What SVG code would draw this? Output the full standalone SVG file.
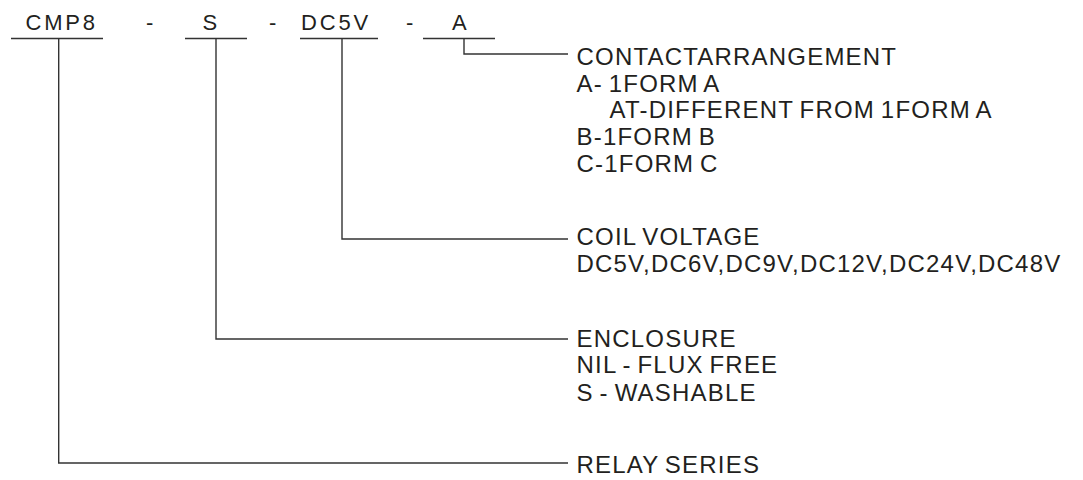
<svg xmlns="http://www.w3.org/2000/svg" width="1083" height="480" viewBox="0 0 1083 480">
<style>
text{font-family:"Liberation Sans",Arial,sans-serif;fill:#231f20}
.top{font-size:22px;letter-spacing:2.8px}
.lbl{font-size:24px;letter-spacing:1.2px;word-spacing:-2px}
.ln{fill:none;stroke:#333;stroke-width:1.4}
</style>
<rect width="1083" height="480" fill="#fff"/>
<g id="code">
<text class="top" x="25.5" y="29.5">CMP8</text>
<text class="top" x="146" y="29.5">-</text>
<text class="top" x="202.5" y="29.5">S</text>
<text class="top" x="269" y="29.5">-</text>
<text class="top" x="301" y="29.5">DC5V</text>
<text class="top" x="406" y="29.5">-</text>
<text class="top" x="452" y="29.5">A</text>
<line class="ln" x1="11" y1="38.5" x2="103" y2="38.5"/>
<line class="ln" x1="185" y1="38.5" x2="247" y2="38.5"/>
<line class="ln" x1="300" y1="38.5" x2="378" y2="38.5"/>
<line class="ln" x1="423" y1="38.5" x2="495" y2="38.5"/>
</g>
<g id="contact">
<text class="lbl" x="576.5" y="65">CONTACTARRANGEMENT</text>
<text class="lbl" x="576.5" y="91.7">A- 1FORM A</text>
<text class="lbl" x="609.5" y="118.3">AT-DIFFERENT FROM 1FORM A</text>
<text class="lbl" x="576.5" y="145">B-1FORM B</text>
<text class="lbl" x="576.5" y="171.7">C-1FORM C</text>
</g>
<g id="coil">
<text class="lbl" x="576.5" y="245">COIL VOLTAGE</text>
<text class="lbl" x="576.5" y="271.7">DC5V,DC6V,DC9V,DC12V,DC24V,DC48V</text>
</g>
<g id="enclosure">
<text class="lbl" x="576.5" y="346.7">ENCLOSURE</text>
<text class="lbl" x="576.5" y="373.3">NIL - FLUX FREE</text>
<text class="lbl" x="576.5" y="400.7">S - WASHABLE</text>
</g>
<g id="series">
<text class="lbl" x="576.5" y="473.3">RELAY SERIES</text>
</g>
<g id="connectors">
<polyline class="ln" points="464,38.5 464,54 568,54"/>
<polyline class="ln" points="342,38.5 342,239 568,239"/>
<polyline class="ln" points="216,38.5 216,339 568,339"/>
<polyline class="ln" points="58.7,38.5 58.7,463 568,463"/>
</g>
</svg>
